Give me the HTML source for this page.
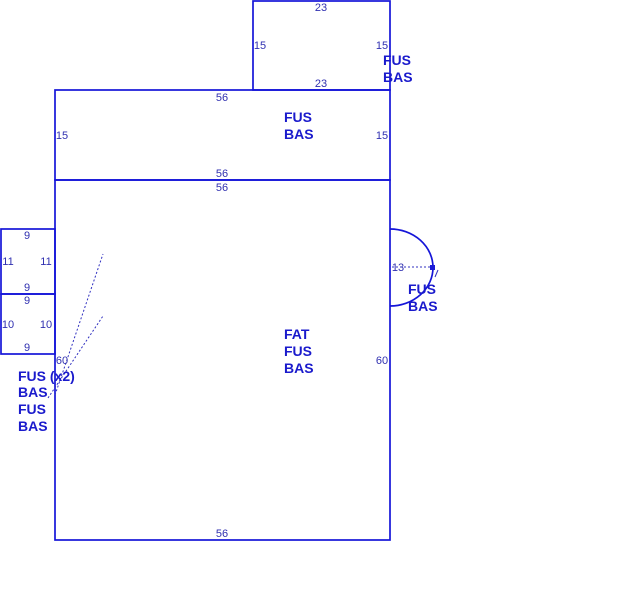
<!DOCTYPE html>
<html><head><meta charset="utf-8"><style>
html,body{margin:0;padding:0;background:#fff;}
svg{display:block;}
.d{font-family:"Liberation Sans",sans-serif;font-size:11px;fill:#3030b0;}
.b{font-family:"Liberation Sans",sans-serif;font-size:14px;font-weight:bold;fill:#1a1acc;}
</style></head><body>
<svg width="635" height="608" viewBox="0 0 635 608" xmlns="http://www.w3.org/2000/svg">
<g stroke="#1515d8" stroke-width="1.7" fill="none">
<rect x="253" y="1" width="137" height="89"/>
<rect x="55" y="90" width="335" height="90"/>
<rect x="55" y="180" width="335" height="360"/>
<rect x="1" y="229" width="54" height="65"/>
<rect x="1" y="294" width="54" height="60"/>
<path d="M390 229 A43 38.5 0 0 1 433 267.5 A43 38.5 0 0 1 390 306"/>
</g>
<g stroke="#3030c0" stroke-width="1" stroke-dasharray="2,2" fill="none">
<line x1="55" y1="395" x2="103" y2="254"/>
<line x1="48" y1="398" x2="103" y2="316"/>
<line x1="392" y1="267" x2="432" y2="267"/>
</g>
<rect x="430" y="265" width="5" height="5" fill="#1a1ad6"/>
<line x1="438" y1="270" x2="435" y2="277" stroke="#3030c0" stroke-width="1"/>
<g class="d" text-anchor="middle">
<text x="321" y="11">23</text>
<text x="321" y="87">23</text>
<text x="260" y="49">15</text>
<text x="382" y="49">15</text>
<text x="222" y="101">56</text>
<text x="62" y="139">15</text>
<text x="382" y="139">15</text>
<text x="222" y="177">56</text>
<text x="222" y="191">56</text>
<text x="27" y="239">9</text>
<text x="8" y="265">11</text>
<text x="46" y="265">11</text>
<text x="27" y="291">9</text>
<text x="27" y="304">9</text>
<text x="8" y="328">10</text>
<text x="46" y="328">10</text>
<text x="27" y="351">9</text>
<text x="62" y="364">60</text>
<text x="382" y="364">60</text>
<text x="398" y="271">13</text>
<text x="222" y="537">56</text>
</g>
<g class="b">
<text x="383" y="65">FUS</text><text x="383" y="82">BAS</text>
<text x="284" y="122">FUS</text><text x="284" y="139">BAS</text>
<text x="408" y="294">FUS</text><text x="408" y="311">BAS</text>
<text x="284" y="339">FAT</text><text x="284" y="356">FUS</text><text x="284" y="373">BAS</text>
<text x="18" y="381">FUS (x2)</text><text x="18" y="397">BAS</text>
<text x="18" y="414">FUS</text><text x="18" y="431">BAS</text>
</g>
</svg>
</body></html>
